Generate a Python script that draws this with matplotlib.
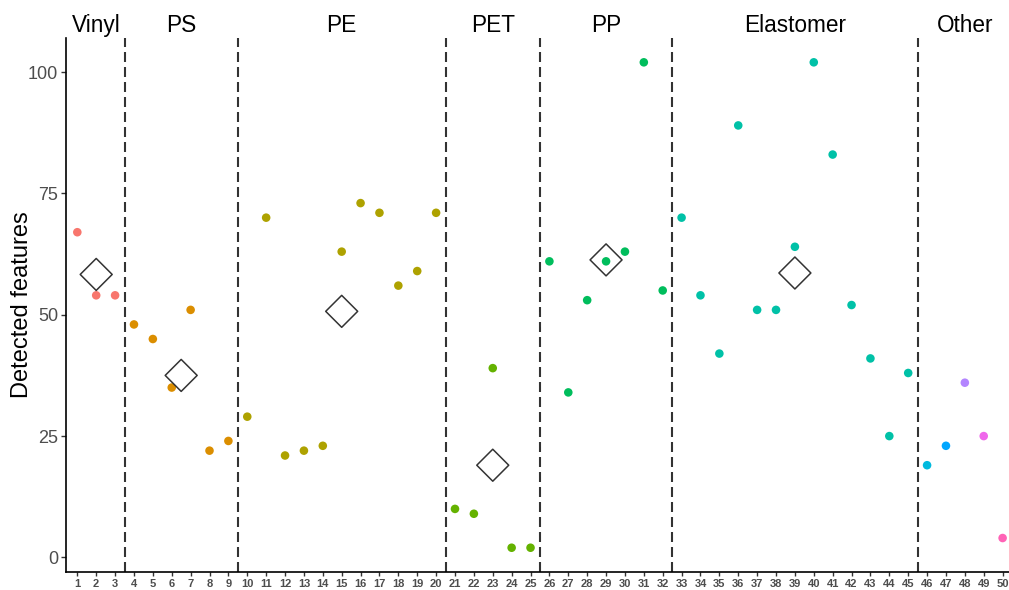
import matplotlib.pyplot as plt
import matplotlib.transforms as mtransforms
import numpy as np

plt.rcParams['font.family'] = ['Liberation Sans', 'DejaVu Sans']

# Detected features per sample (samples 1..50)
samples = list(range(1, 51))
features = [67, 54, 54,                                   # Vinyl
            48, 45, 35, 51, 22, 24,                       # PS
            29, 70, 21, 22, 23, 63, 73, 71, 56, 59, 71,   # PE
            10, 9, 39, 2, 2,                              # PET
            61, 34, 53, 61, 63, 102, 55,                  # PP
            70, 54, 42, 89, 51, 51, 64, 102, 83, 52, 41, 25, 38,  # Elastomer
            19, 23, 36, 25, 4]                            # Other

# Colour group of each sample (Other samples each get their own)
color_group = ([0] * 3 + [1] * 6 + [2] * 11 + [3] * 5 + [4] * 7 + [5] * 13
               + [6, 7, 8, 9, 10])
palette = ['#F8766D', '#DB8E00', '#AEA200', '#64B200', '#00BD5C', '#00C1A7',
           '#00BADE', '#00A6FF', '#B385FF', '#EF67EB', '#FF63B6']

groups = ['Vinyl', 'PS', 'PE', 'PET', 'PP', 'Elastomer', 'Other']
group_sizes = [3, 6, 11, 5, 7, 13, 5]
# Summary diamond per group (None = not drawn)
group_summary = [58.3, 37.5, 50.7, 19.0, 61.3, 58.6, None]

fig = plt.figure(figsize=(10.09, 5.90), dpi=100)
ax = fig.add_axes([0.0654, 0.0305, 0.9395, 0.905])

colors = [palette[g] for g in color_group]
ax.scatter(samples, features, c=colors, s=38, linewidths=0, zorder=3)

bounds = np.cumsum([0] + group_sizes)
centers = [(bounds[i] + 1 + bounds[i + 1]) / 2 for i in range(len(groups))]

# separators between material groups
for b in bounds[1:-1]:
    ax.axvline(b + 0.5, color='#333333', lw=1.5, ls=(0, (4.8, 2.4)), zorder=2)

sx = [c for c, m in zip(centers, group_summary) if m is not None]
sy = [m for m in group_summary if m is not None]
ax.scatter(sx, sy, marker='D', s=265, facecolors='none',
           edgecolors='#333333', linewidths=1.1, zorder=4)

trans = mtransforms.blended_transform_factory(ax.transData, ax.transAxes)
for name, c in zip(groups, centers):
    ax.text(c, 1.024, name, transform=trans, ha='center', va='center',
            fontsize=16.3, color='black')

ax.set_xlim(0.4, 50.6)
ax.set_ylim(-3, 107)
ax.set_xticks(samples)
ax.set_xticklabels([str(s) for s in samples], fontsize=8, fontweight='bold',
                   color='#4D4D4D')
ax.set_yticks([0, 25, 50, 75, 100])
ax.tick_params(axis='y', labelsize=13, labelcolor='#4D4D4D', length=3.5,
               width=1, color='#333333', pad=2)
ax.tick_params(axis='x', length=3, width=1, color='#333333', pad=2)
ax.set_ylabel('Detected features', fontsize=17)
ax.yaxis.label.set_va('center')
ax.yaxis.set_label_coords(-0.0464, 0.5)

for side in ['top', 'right']:
    ax.spines[side].set_visible(False)
for side in ['left', 'bottom']:
    ax.spines[side].set_linewidth(1.2)
    ax.spines[side].set_color('black')

fig.savefig('out.png', dpi=100)
